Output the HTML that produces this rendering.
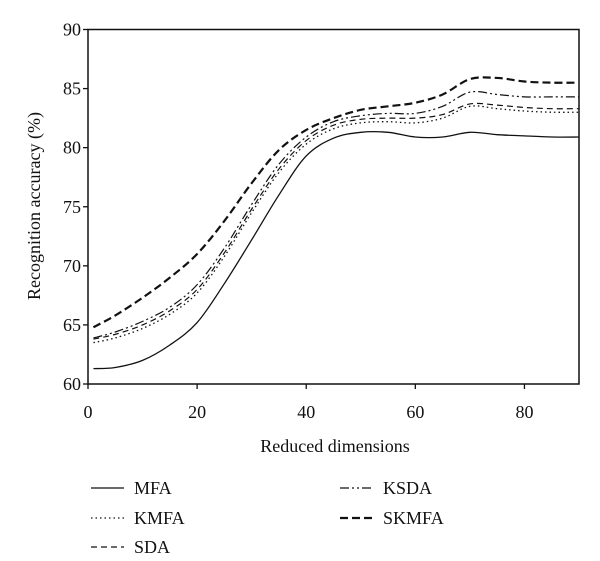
<!DOCTYPE html>
<html><head><meta charset="utf-8"><style>
html,body{margin:0;padding:0;background:#fff;}
svg{display:block;font-family:"Liberation Serif",serif;}
</style></head><body>
<svg id="chart" width="600" height="561" viewBox="0 0 600 561">
<g id="plot"></g>
</svg>
<script>
const xs = [1,5,10,15,20,25,30,35,40,45,50,55,60,65,70,75,80,85,90];
const mfa   = [61.3,61.4,62.0,63.3,65.2,68.5,72.2,76.0,79.3,80.8,81.3,81.3,80.9,80.9,81.3,81.1,81.0,80.9,80.9];
const kmfa  = [63.5,63.9,64.7,65.9,67.7,70.8,74.5,77.9,80.3,81.6,82.1,82.2,82.1,82.5,83.5,83.3,83.1,83.0,83.0];
const sda   = [63.8,64.2,65.0,66.2,68.0,71.1,74.8,78.2,80.6,81.9,82.4,82.5,82.5,82.8,83.7,83.6,83.4,83.3,83.3];
const ksda  = [63.9,64.4,65.3,66.5,68.4,71.5,75.2,78.6,80.9,82.2,82.7,82.9,82.9,83.5,84.7,84.5,84.3,84.3,84.3];
const skmfa = [64.8,65.8,67.3,69.0,71.0,73.8,77.0,79.8,81.5,82.5,83.2,83.5,83.8,84.5,85.8,85.9,85.6,85.5,85.5];
const seriesNames = ["MFA","KMFA","SDA","KSDA","SKMFA"];
const xTicks = [0,20,40,60,80];
const yTicks = [60,65,70,75,80,85,90];

const L=88,R=579,T=29.5,B=384;
const sx = v => L + (v-0)/(90-0)*(R-L);
const sy = v => B - (v-60)/(90-60)*(B-T);
const NS="http://www.w3.org/2000/svg";
const svg=document.getElementById('chart');
const g=document.getElementById('plot');
function mk(tag,attrs,parent){const e=document.createElementNS(NS,tag);for(const k in attrs)e.setAttribute(k,attrs[k]);(parent||g).appendChild(e);return e;}

const styles=[
 {w:1.3,d:""},
 {w:1.3,d:"1.5 3"},
 {w:1.2,d:"6 4"},
 {w:1.2,d:"9 3 2 3 2 3"},
 {w:2.2,d:"8 4"}
];
const data=[mfa,kmfa,sda,ksda,skmfa];

function smoothPath(px,py){
  let d="M"+px[0]+","+py[0];
  for(let i=0;i<px.length-1;i++){
    const x0=px[Math.max(i-1,0)],y0=py[Math.max(i-1,0)];
    const x1=px[i],y1=py[i],x2=px[i+1],y2=py[i+1];
    const x3=px[Math.min(i+2,px.length-1)],y3=py[Math.min(i+2,px.length-1)];
    const c1x=x1+(x2-x0)/6,c1y=y1+(y2-y0)/6,c2x=x2-(x3-x1)/6,c2y=y2-(y3-y1)/6;
    d+=" C"+c1x+","+c1y+" "+c2x+","+c2y+" "+x2+","+y2;
  }
  return d;
}

data.forEach((arr,i)=>{
  const p=mk('path',{d:smoothPath(xs.map(sx),arr.map(sy)),fill:'none',stroke:'#111','stroke-width':styles[i].w,'stroke-dasharray':styles[i].d});
  
  
});

const frame=mk('rect',{x:L,y:T,width:R-L,height:B-T,fill:'none',stroke:'#111','stroke-width':1.5});



yTicks.forEach(v=>{
  const t=mk('line',{x1:L-5,x2:L,y1:sy(v),y2:sy(v),stroke:'#111','stroke-width':1.3});
  
  
  const tx=mk('text',{x:L-7,y:sy(v)+6,'text-anchor':'end','font-size':18,fill:'#111'});
  tx.textContent=v;
  
  
});
xTicks.forEach(v=>{
  const t=mk('line',{x1:sx(v),x2:sx(v),y1:B,y2:B+5,stroke:'#111','stroke-width':1.3});
  
  
  const tx=mk('text',{x:sx(v),y:418,'text-anchor':'middle','font-size':18,fill:'#111'});
  tx.textContent=v;
  
  
});

const xt=mk('text',{x:335,y:452,'text-anchor':'middle','font-size':18,fill:'#111'});
xt.textContent='Reduced dimensions';


const yt=mk('text',{x:0,y:0,'text-anchor':'middle','font-size':18,fill:'#111',transform:'translate(40,206) rotate(-90)'});
yt.textContent='Recognition accuracy (%)';



const legPos=[[91,494],[91,524],[91,553],[340,494],[340,524]];
seriesNames.forEach((n,i)=>{
  const [lx,ly]=legPos[i];
  const ln=mk('line',{x1:lx,x2:lx+33,y1:ly-6,y2:ly-6,stroke:'#111','stroke-width':styles[i].w,'stroke-dasharray':styles[i].d});
  
  
  const tx=mk('text',{x:lx+43,y:ly,'font-size':18,fill:'#111'});
  tx.textContent=n;
  
  
});
</script>
</body></html>
